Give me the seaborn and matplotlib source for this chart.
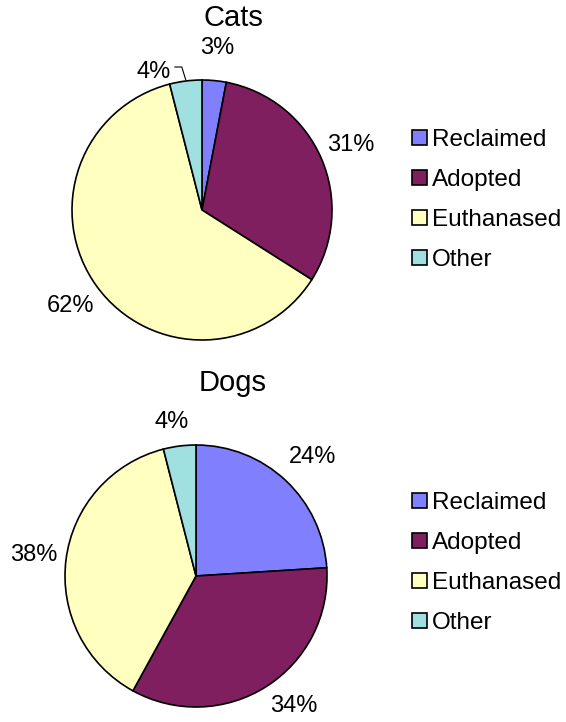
import numpy as np
import matplotlib
matplotlib.use("Agg")
import matplotlib.pyplot as plt
from matplotlib.patches import Patch
import seaborn as sns

categories = ['Reclaimed', 'Adopted', 'Euthanased', 'Other']
cats = [3, 31, 62, 4]
dogs = [24, 34, 38, 4]
colors = ['#8080ff', '#7f1f5f', '#ffffc0', '#a0e0e0']

sns.set_style('white')
plt.rcParams['font.family'] = ['Liberation Sans', 'DejaVu Sans']
plt.rcParams['text.color'] = 'black'

W, H = 566, 722
LIM = 1.35
fig = plt.figure(figsize=(W / 100, H / 100), dpi=100)


def make_ax(cx, cy, r):
    side = 2 * LIM * r
    ax = fig.add_axes([(cx - side / 2) / W, (H - cy - side / 2) / H, side / W, side / H])
    return ax


def draw_pie(ax, vals, title, ty):
    wedges, texts, autotexts = ax.pie(
        vals, colors=colors, startangle=90, counterclock=False,
        autopct='%d%%', pctdistance=1.25,
        wedgeprops=dict(edgecolor='black', linewidth=1.2),
        textprops=dict(fontsize=17, color='black'))
    ax.set_xlim(-LIM, LIM)
    ax.set_ylim(-LIM, LIM)
    ax.set_aspect('equal')
    ax.axis('off')
    fig.text(233 / W, 1 - ty / H, title, ha='center', va='center', fontsize=21)
    return wedges, autotexts


def place(txt, ang, dist):
    a = np.deg2rad(ang)
    txt.set_position((dist * np.cos(a), dist * np.sin(a)))


ax1 = make_ax(202, 210, 130)
w1, t1 = draw_pie(ax1, cats, 'Cats', 18)
# move the small "Other" label aside and add a leader line
t1[3].set_position((-0.37, 1.06))
a = np.deg2rad((w1[3].theta1 + w1[3].theta2) / 2)
ex, ey = np.cos(a), np.sin(a)
ax1.plot([-0.21, ex - 0.03, ex], [1.1, 1.1, ey + 0.01], color='black', lw=0.8)

ax2 = make_ax(196, 576, 131)
w2, t2 = draw_pie(ax2, dogs, 'Dogs', 383)
place(t2[0], 45.5, 1.27)
place(t2[1], -53, 1.24)
place(t2[3], 99, 1.19)

handles = [Patch(facecolor=c, edgecolor='black', linewidth=1.2) for c in colors]
for cy in (200, 563):
    fig.legend(handles, categories, loc='center left',
               bbox_to_anchor=(412 / W, 1 - cy / H), frameon=False,
               fontsize=17.5, handlelength=0.62, handleheight=0.62,
               handletextpad=0.2, labelspacing=0.74, borderpad=0,
               borderaxespad=0)

fig.savefig('out.png', dpi=100, facecolor='white')
